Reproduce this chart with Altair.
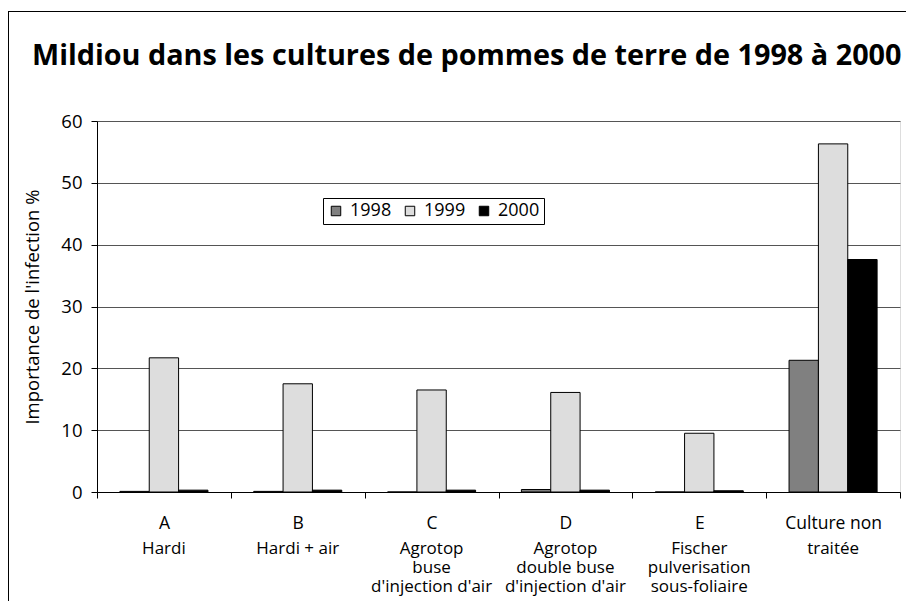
import altair as alt
import pandas as pd

categories = ["A", "B", "C", "D", "E", "Culture non"]
descriptions = [
    "Hardi",
    "Hardi + air",
    "Agrotop\nbuse\nd'injection d'air",
    "Agrotop\ndouble buse\nd'injection d'air",
    "Fischer\npulverisation\nsous-foliaire",
    "traitée",
]
years = ["1998", "1999", "2000"]
v1998 = [0.1, 0.1, 0.0, 0.4, 0.0, 21.3]
v1999 = [21.7, 17.5, 16.5, 16.1, 9.5, 56.3]
v2000 = [0.3, 0.3, 0.3, 0.3, 0.2, 37.6]
colors = ["#808080", "#DDDDDD", "#000000"]
y_ticks = [0, 10, 20, 30, 40, 50, 60]
title_text = "Mildiou dans les cultures de pommes de terre de 1998 à 2000"
y_title = "Importance de l'infection %"

rows = []
for i, c in enumerate(categories):
    for yr, vals in zip(years, [v1998, v1999, v2000]):
        rows.append({"cat": c, "year": yr, "value": vals[i]})
df = pd.DataFrame(rows)
desc_df = pd.DataFrame({"cat": categories, "desc": descriptions})

FONT = "Open Sans"
W, H = 803, 371

xscale = alt.Scale(domain=categories, paddingInner=0, paddingOuter=0)

bars = alt.Chart(df).mark_bar(stroke="black", strokeWidth=1).encode(
    x=alt.X(
        "cat:N",
        scale=xscale,
        sort=categories,
        axis=alt.Axis(
            title=None,
            labelAngle=0,
            tickBand="extent",
            labelFont=FONT,
            labelFontSize=17.5,
            labelColor="black",
            labelBaseline="alphabetic",
            labelPadding=30,
            tickSize=6,
            tickColor="black",
            domainColor="black",
            grid=False,
        ),
    ),
    xOffset=alt.XOffset(
        "year:N", sort=years, scale=alt.Scale(domain=years, paddingInner=0, paddingOuter=0.78)
    ),
    y=alt.Y(
        "value:Q",
        scale=alt.Scale(domain=[0, 60], nice=False),
        axis=alt.Axis(
            values=y_ticks,
            title=y_title,
            titleFont=FONT,
            titleFontSize=18.5,
            titleFontWeight="normal",
            titleColor="black",
            titlePadding=18,
            labelFont=FONT,
            labelFontSize=18.5,
            labelColor="black",
            labelPadding=9,
            tickSize=6,
            tickColor="black",
            domainColor="black",
            grid=True,
            gridColor="#555555",
            gridWidth=1,
        ),
    ),
    color=alt.Color(
        "year:N",
        scale=alt.Scale(domain=years, range=colors),
        title=None,
        legend=alt.Legend(
            orient="none",
            legendX=226,
            legendY=77,
            direction="horizontal",
            columns=3,
            symbolType="square",
            symbolSize=90,
            symbolStrokeColor="black",
            symbolStrokeWidth=1,
            labelFont=FONT,
            labelFontSize=18,
            labelColor="black",
            labelOffset=5,
            columnPadding=9,
            padding=4,
            strokeColor="black",
            fillColor="white",
        ),
    ),
)

desc = alt.Chart(desc_df).mark_text(
    font=FONT, fontSize=17, baseline="alphabetic", align="center",
    lineBreak="\n", lineHeight=19, color="black",
).encode(
    x=alt.X("cat:N", scale=xscale, sort=categories),
    y=alt.value(433),
    text="desc:N",
)

title_df = pd.DataFrame({"t": [title_text]})
title = alt.Chart(title_df).mark_text(
    font=FONT, fontSize=28.8, fontWeight="bold", align="left", baseline="alphabetic", color="black"
).encode(x=alt.value(-65), y=alt.value(-56), text="t:N")

frame_df = pd.DataFrame({"a": [0]})
frame_top = alt.Chart(frame_df).mark_rule(color="black", strokeWidth=1).encode(
    x=alt.value(-89), x2=alt.value(809), y=alt.value(-109.5)
)
frame_left = alt.Chart(frame_df).mark_rule(color="black", strokeWidth=1).encode(
    x=alt.value(-88.5), y=alt.value(-110), y2=alt.value(480)
)

chart = alt.layer(bars, desc, title, frame_top, frame_left).properties(
    width=W,
    height=H,
    padding={"left": 89, "top": 113, "right": 6, "bottom": 109},
    autosize=alt.AutoSizeParams(type="none"),
).configure_view(stroke="#808080", strokeWidth=1).configure(background="white")

chart.save("out.html", embed_options={"renderer": "svg", "actions": False})
